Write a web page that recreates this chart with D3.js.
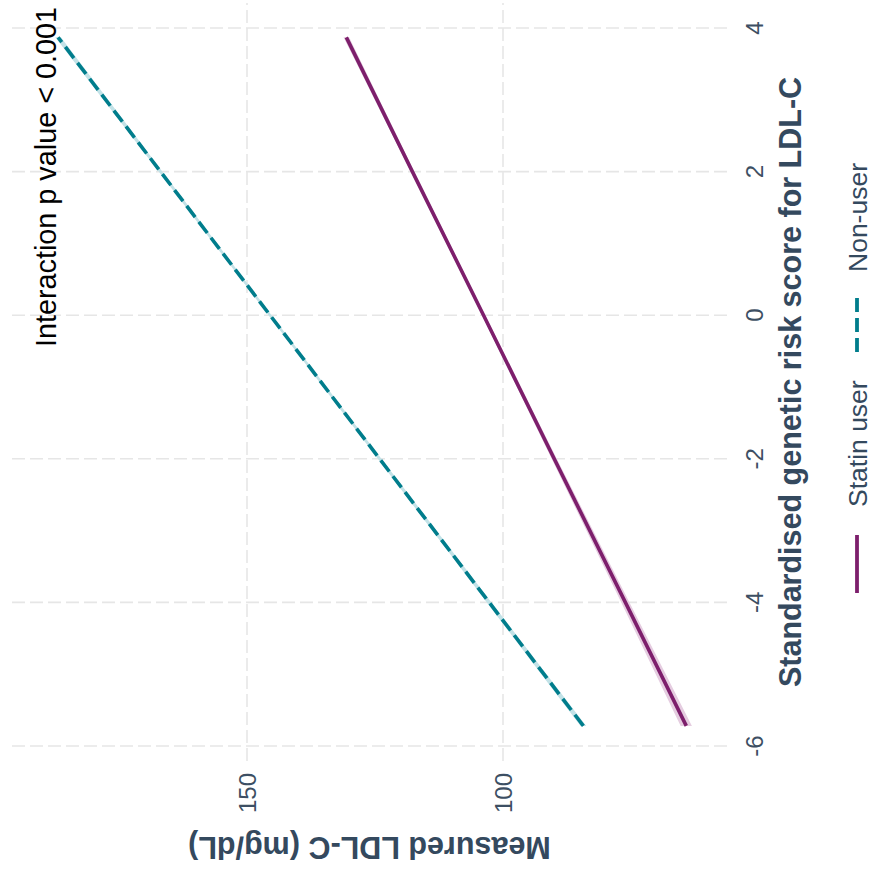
<!DOCTYPE html>
<html>
<head>
<meta charset="utf-8">
<script src="https://cdn.jsdelivr.net/npm/d3@7"></script>
<style>
  html, body { margin: 0; padding: 0; background: #ffffff; }
  svg { display: block; font-family: "Liberation Sans", Arial, Helvetica, sans-serif; }
</style>
</head>
<body>
<svg id="chart" width="872" height="877"></svg>
<script>
// Fitted LDL-C (mg/dL) against the standardised genetic risk score, by statin use
const scores       = [-5.72, -4, -2, 0, 2, 3.87];
const statinFit    = [64.2, 76.1, 90.0, 103.8, 117.7, 130.6];
const statinLower  = [63.1, 75.3, 89.5, 103.5, 117.35, 130.05];
const statinUpper  = [65.3, 76.9, 90.5, 104.1, 118.05, 131.15];
const nonUserFit   = [84.3, 102.7, 124.1, 145.5, 166.9, 186.9];
const nonUserLower = [83.75, 102.25, 123.75, 145.2, 166.55, 186.35];
const nonUserUpper = [84.85, 103.15, 124.45, 145.8, 167.25, 187.45];

const scoreTicks = [-6, -4, -2, 0, 2, 4];
const ldlTicks   = [100, 150];
const groups     = ["Statin user", "Non-user"];

const annotationText = "Interaction p value < 0.001";
const scoreTitle     = "Standardised genetic risk score for LDL-C";
const ldlTitle       = "Measured LDL-C (mg/dL)";

const svg = d3.select("#chart");

// The plot is laid out on its side: LDL-C runs right-to-left, score bottom-to-top
const panel = { left: 12, right: 727, top: 3, bottom: 761 };
const x = d3.scaleLinear().domain([150, 100]).range([247, 503]);
const y = d3.scaleLinear().domain([4, -6]).range([28, 746]);

const textCol = "#34495e";
const tickCol = "#3d4f63";
const gridCol = "#e6e6e6";
const colours = { "Statin user": "#7d1f6c", "Non-user": "#007d8c" };
const ribbons = { "Statin user": "#e5cde0", "Non-user": "#c2e2e7" };

// Grid lines
const grid = svg.append("g");
grid.selectAll("line.h").data(scoreTicks).join("line")
  .attr("class", "h")
  .attr("x1", panel.right).attr("x2", panel.left)
  .attr("y1", d => y(d)).attr("y2", d => y(d))
  .attr("stroke", gridCol).attr("stroke-width", 1.6)
  .attr("stroke-dasharray", "13,5");
grid.selectAll("line.v").data(ldlTicks).join("line")
  .attr("class", "v")
  .attr("x1", d => x(d)).attr("x2", d => x(d))
  .attr("y1", panel.bottom).attr("y2", panel.top)
  .attr("stroke", gridCol).attr("stroke-width", 1.6)
  .attr("stroke-dasharray", "13,5");

// Series records built from the arrays above
const series = [
  { name: "Statin user", fit: statinFit, lo: statinLower, hi: statinUpper, dash: null },
  { name: "Non-user",    fit: nonUserFit, lo: nonUserLower, hi: nonUserUpper, dash: "14,6" }
].map(s => ({ ...s, pts: scores.map((sc, i) => ({ score: sc, fit: s.fit[i], lo: s.lo[i], hi: s.hi[i] })) }));

const area = d3.area()
  .y(d => y(d.score))
  .x0(d => x(d.lo))
  .x1(d => x(d.hi));
const line = d3.line()
  .x(d => x(d.fit))
  .y(d => y(d.score));

const marks = svg.append("g");
marks.selectAll("path.band").data(series).join("path")
  .attr("class", "band")
  .attr("d", d => area(d.pts))
  .attr("fill", d => ribbons[d.name]);
marks.selectAll("path.fit").data(series).join("path")
  .attr("class", "fit")
  .attr("d", d => line(d.pts))
  .attr("fill", "none")
  .attr("stroke", d => colours[d.name])
  .attr("stroke-width", 3.6)
  .attr("stroke-dasharray", d => d.dash);

// Score axis labels (right side, rotated)
svg.append("g").selectAll("text").data(scoreTicks).join("text")
  .attr("transform", d => `translate(763,${y(d)}) rotate(-90)`)
  .attr("text-anchor", "middle")
  .attr("font-size", 24)
  .attr("fill", tickCol)
  .text(d => d);

// LDL-C axis labels (bottom, rotated)
svg.append("g").selectAll("text").data(ldlTicks).join("text")
  .attr("transform", d => `translate(${x(d) + 8.6},773) rotate(-90)`)
  .attr("text-anchor", "end")
  .attr("font-size", 24)
  .attr("fill", tickCol)
  .text(d => d);

// Axis titles
svg.append("text")
  .attr("transform", `translate(801,${(panel.top + panel.bottom) / 2}) rotate(-90)`)
  .attr("text-anchor", "middle")
  .attr("font-size", 30.5)
  .attr("font-weight", "bold")
  .attr("fill", textCol)
  .text(scoreTitle);

svg.append("text")
  .attr("transform", `translate(${(panel.left + panel.right) / 2},836.5) rotate(180)`)
  .attr("text-anchor", "middle")
  .attr("font-size", 30.5)
  .attr("font-weight", "bold")
  .attr("fill", textCol)
  .text(ldlTitle);

// Annotation
svg.append("text")
  .attr("transform", `translate(55.5,177) rotate(-90)`)
  .attr("text-anchor", "middle")
  .attr("font-size", 28.8)
  .attr("fill", "#000000")
  .text(annotationText);

// Legend
const legendPos = { "Statin user": { key: [535, 593], text: 507 }, "Non-user": { key: [298, 355], text: 272 } };
const legend = svg.append("g");
groups.forEach(g => {
  const p = legendPos[g];
  const s = series.find(d => d.name === g);
  legend.append("line")
    .attr("x1", 857).attr("x2", 857)
    .attr("y1", p.key[0]).attr("y2", p.key[1])
    .attr("stroke", colours[g])
    .attr("stroke-width", 3.8)
    .attr("stroke-dasharray", s.dash);
  legend.append("text")
    .attr("transform", `translate(866.5,${p.text}) rotate(-90)`)
    .attr("text-anchor", "start")
    .attr("font-size", 26.5)
    .attr("fill", textCol)
    .text(g);
});
</script>
</body>
</html>
